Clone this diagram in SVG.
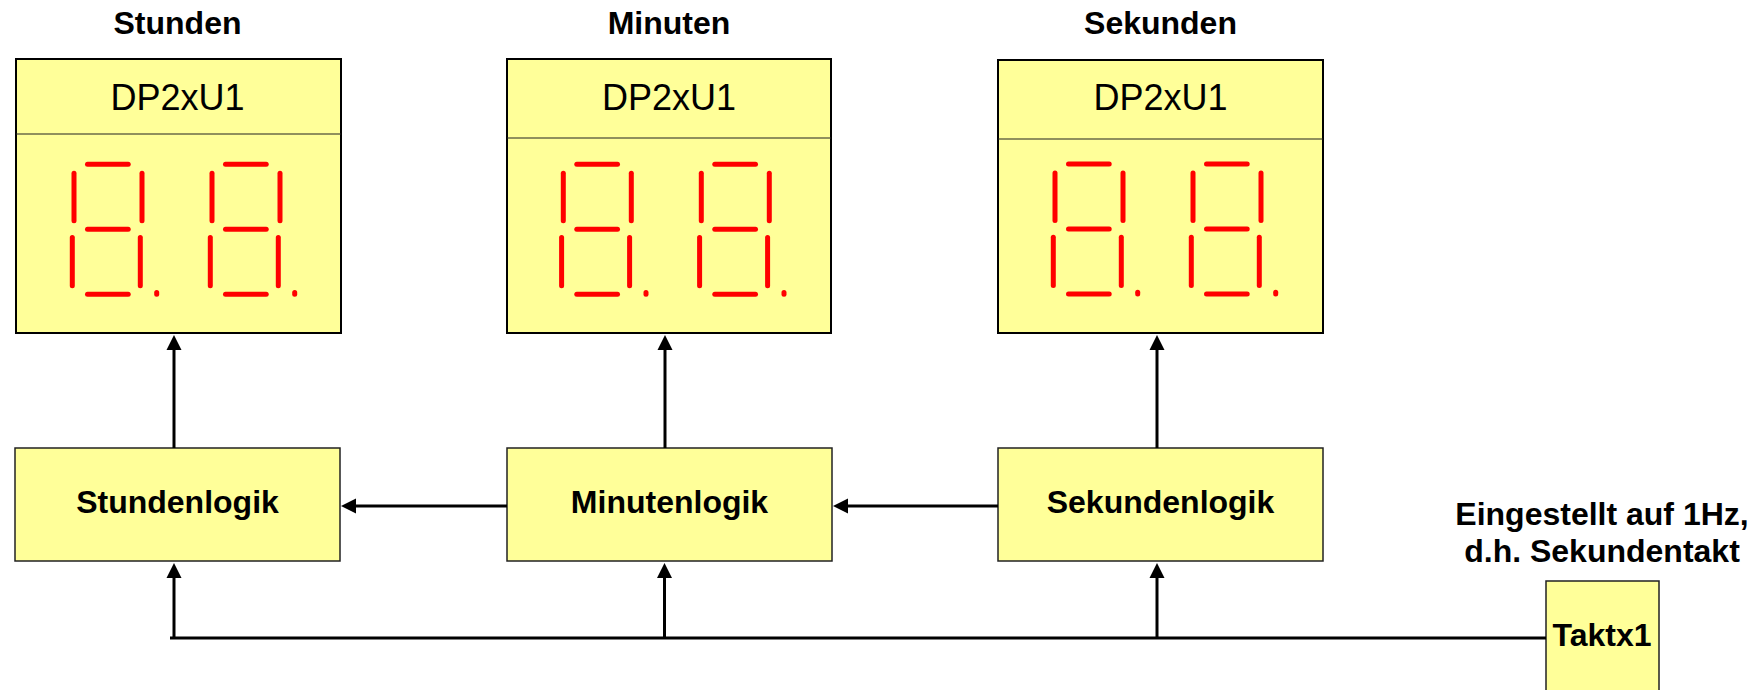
<svg xmlns="http://www.w3.org/2000/svg" xmlns:xlink="http://www.w3.org/1999/xlink" width="1758" height="690" viewBox="0 0 1758 690">
  <style>
    .box { fill: #ffff99; stroke: #000; stroke-width: 2; }
    .lbox { fill: #ffff99; stroke: #222; stroke-width: 1.5; }
    .div { stroke: #222; stroke-width: 1.2; }
    .title { font-family: "Liberation Sans", Arial, sans-serif; font-weight: bold; font-size: 32px; fill: #000; text-anchor: middle; }
    .dev { font-family: "Liberation Sans", Arial, sans-serif; font-size: 36px; fill: #000; text-anchor: middle; }
    .seg { stroke: #ff0000; stroke-width: 5; stroke-linecap: round; fill: none; }
    .wire { stroke: #000; stroke-width: 3; fill: none; }
    .arr { marker-end: url(#arrow); }
  </style>
  <defs>
    <marker id="arrow" markerUnits="userSpaceOnUse" markerWidth="15" markerHeight="15" refX="0" refY="7.5" orient="auto" overflow="visible">
      <path d="M0,0 L15,7.5 L0,15 Z" fill="#000"/>
    </marker>
    <!-- one seven-segment digit with decimal point, origin at top of upper-left segment -->
    <g id="digit" class="seg">
      <line x1="13.5" y1="0" x2="54.2" y2="0"/>
      <line x1="0" y1="9" x2="0" y2="56.5"/>
      <line x1="68" y1="9" x2="68" y2="56.5"/>
      <line x1="13.5" y1="65" x2="54.2" y2="65"/>
      <line x1="-1.7" y1="73.2" x2="-1.7" y2="121.5"/>
      <line x1="66.3" y1="73.2" x2="66.3" y2="121.5"/>
      <line x1="13.5" y1="130" x2="54.2" y2="130"/>
      <line x1="82.7" y1="128.2" x2="82.7" y2="130"/>
    </g>
  </defs>

  <rect width="1758" height="690" fill="#ffffff"/>

  <!-- displays -->
  <g id="anzeige-stunden">
    <text class="title" x="177.5" y="34">Stunden</text>
    <rect class="box" x="16" y="59" width="325" height="274"/>
    <line class="div" x1="16" y1="134" x2="341" y2="134"/>
    <text class="dev" x="177.5" y="110">DP2xU1</text>
    <use xlink:href="#digit" x="74" y="164.3"/>
    <use xlink:href="#digit" x="212" y="164.3"/>
  </g>
  <g id="anzeige-minuten">
    <text class="title" x="669" y="34">Minuten</text>
    <rect class="box" x="507" y="59" width="324" height="274"/>
    <line class="div" x1="507" y1="138" x2="831" y2="138"/>
    <text class="dev" x="669" y="110">DP2xU1</text>
    <use xlink:href="#digit" x="563.3" y="164.3"/>
    <use xlink:href="#digit" x="701.3" y="164.3"/>
  </g>
  <g id="anzeige-sekunden">
    <text class="title" x="1160.5" y="34">Sekunden</text>
    <rect class="box" x="998" y="60" width="325" height="273"/>
    <line class="div" x1="998" y1="139" x2="1323" y2="139"/>
    <text class="dev" x="1160.5" y="110">DP2xU1</text>
    <use xlink:href="#digit" x="1055" y="164"/>
    <use xlink:href="#digit" x="1193" y="164"/>
  </g>

  <!-- logic blocks -->
  <g id="stundenlogik">
    <rect class="lbox" x="15" y="448" width="325" height="113"/>
    <text class="title" x="177.5" y="513">Stundenlogik</text>
  </g>
  <g id="minutenlogik">
    <rect class="lbox" x="507" y="448" width="325" height="113"/>
    <text class="title" x="669.5" y="513">Minutenlogik</text>
  </g>
  <g id="sekundenlogik">
    <rect class="lbox" x="998" y="448" width="325" height="113"/>
    <text class="title" x="1160.5" y="513">Sekundenlogik</text>
  </g>

  <!-- clock source -->
  <g id="taktx1">
    <text class="title" x="1602" y="525">Eingestellt auf 1Hz,</text>
    <text class="title" x="1602" y="562">d.h. Sekundentakt</text>
    <rect class="lbox" x="1546" y="581" width="113" height="120"/>
    <text class="title" x="1602" y="646">Taktx1</text>
  </g>

  <!-- connectors -->
  <g id="connectors">
    <line class="wire" x1="170" y1="638" x2="1546" y2="638"/>
    <line class="wire arr" x1="174" y1="638" x2="174" y2="578"/>
    <line class="wire arr" x1="664.5" y1="638" x2="664.5" y2="578"/>
    <line class="wire arr" x1="1157" y1="638" x2="1157" y2="578"/>
    <line class="wire arr" x1="174" y1="448" x2="174" y2="350"/>
    <line class="wire arr" x1="665" y1="448" x2="665" y2="350"/>
    <line class="wire arr" x1="1157" y1="448" x2="1157" y2="350"/>
    <line class="wire arr" x1="507" y1="506" x2="356" y2="506"/>
    <line class="wire arr" x1="998" y1="506" x2="848" y2="506"/>
  </g>
</svg>
